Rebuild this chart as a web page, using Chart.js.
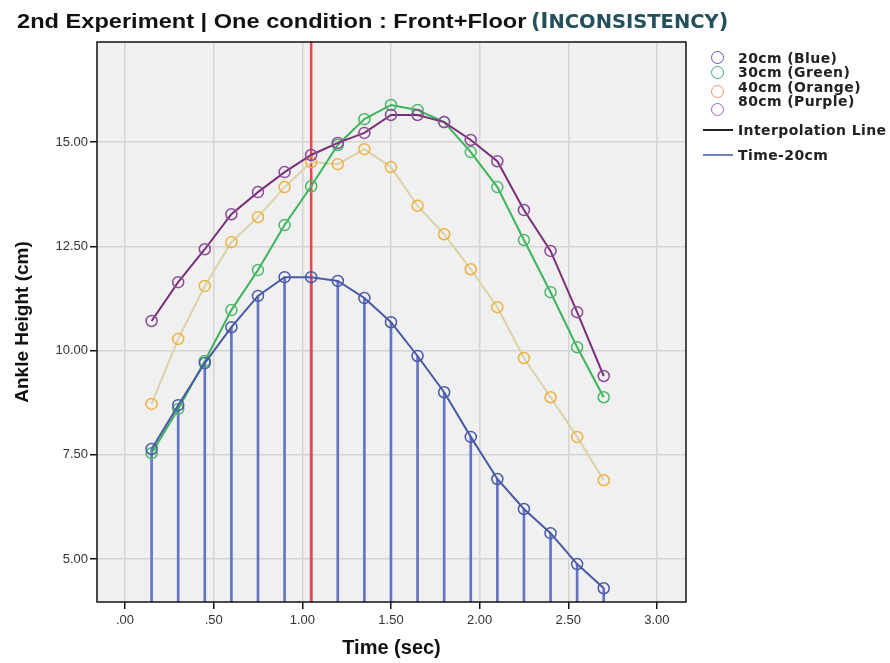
<!DOCTYPE html>
<html>
<head>
<meta charset="utf-8">
<title>Ankle height</title>
<script src="https://cdn.jsdelivr.net/npm/chart.js@4.4.1/dist/chart.umd.min.js"></script>
<style>
  html, body { margin: 0; padding: 0; background: #fff; }
  #wrap { position: relative; width: 890px; height: 663px; }
  #chart { position: absolute; left: 0; top: 0; }
  .ttl { position: absolute; top: 9px; white-space: nowrap; line-height: 24px; font-weight: bold; }
  #title { left: 17px; font-family: "Liberation Sans", Arial, sans-serif; font-size: 20px; color: #111; transform: scaleX(1.18); transform-origin: left center; }
  #tag { left: 531px; font-family: "DejaVu Sans", sans-serif; font-size: 21px; color: #24505c; }
  #tag .sm { font-size: 19.5px; }
  .lg { position: absolute; font: bold 14px "DejaVu Sans", sans-serif; letter-spacing: 0.4px; color: #222; line-height: 16px; white-space: nowrap; }
  .dot { position: absolute; width: 11px; height: 11px; border-radius: 50%; border: 1.5px solid; }
  .bar { position: absolute; width: 30px; height: 0; border-top: 2px solid; }
</style>
</head>
<body>
<div id="wrap">
  <canvas id="chart" width="890" height="663"></canvas>
  <div class="ttl" id="title">2nd Experiment | One condition : Front+Floor</div>
  <div class="ttl" id="tag">(I<span class="sm">NCONSISTENCY</span>)</div>

  <div class="dot" style="left:711px; top:51px; border-color:#6050d8;"></div>
  <div class="dot" style="left:711px; top:66px; border-color:#40a090;"></div>
  <div class="dot" style="left:711px; top:85px; border-color:#f09070;"></div>
  <div class="dot" style="left:711px; top:103px; border-color:#a060d8;"></div>
  <div class="lg" style="left:738px; top:50px;">20cm (Blue)</div>
  <div class="lg" style="left:738px; top:64px;">30cm (Green)</div>
  <div class="lg" style="left:738px; top:79px;">40cm (Orange)</div>
  <div class="lg" style="left:738px; top:93px;">80cm (Purple)</div>
  <div class="bar" style="left:703px; top:129px; border-color:#222;"></div>
  <div class="lg" style="left:738px; top:122px;">Interpolation Line</div>
  <div class="bar" style="left:703px; top:154px; border-color:#7080c0;"></div>
  <div class="lg" style="left:738px; top:147px;">Time-20cm</div>
</div>

<script>
// sample times (sec)
const timeSec = [0.15, 0.30, 0.45, 0.60, 0.75, 0.90, 1.05, 1.20, 1.35, 1.50,
                 1.65, 1.80, 1.95, 2.10, 2.25, 2.40, 2.55, 2.70];

// ankle height (cm) per obstacle height
const blue20   = [7.64, 8.69, 9.70, 10.56, 11.31, 11.76, 11.76, 11.67, 11.26, 10.68,
                  9.87, 9.00, 7.93, 6.92, 6.20, 5.62, 4.88, 4.30];
const green30  = [7.54, 8.60, 9.75, 10.97, 11.93, 13.01, 13.94, 14.93, 15.55, 15.89,
                  15.77, 15.48, 14.76, 13.92, 12.65, 11.40, 10.08, 8.88];
const orange40 = [8.72, 10.28, 11.55, 12.60, 13.20, 13.92, 14.52, 14.47, 14.83, 14.40,
                  13.47, 12.79, 11.95, 11.04, 9.82, 8.88, 7.93, 6.89];
const purple80 = [10.71, 11.64, 12.43, 13.27, 13.80, 14.28, 14.69, 14.98, 15.22, 15.65,
                  15.65, 15.48, 15.05, 14.54, 13.37, 12.39, 10.92, 9.39];

const cutTime = 1.05;

const xTicks = [0, 0.5, 1.0, 1.5, 2.0, 2.5, 3.0];
const yTicks = [5, 7.5, 10, 12.5, 15];
const xRange = [-0.158, 3.164];
const yRange = [3.97, 17.4];

const pts = ys => timeSec.map((t, i) => ({ x: t, y: ys[i] }));

// SPSS style label: ".50", "1.00"
const fmt = v => {
  const s = Number(v).toFixed(2);
  return s.startsWith("0.") ? s.slice(1) : s;
};

function series(values, line, mark, order) {
  return {
    type: "line",
    data: pts(values),
    borderColor: line,
    borderWidth: 2,
    tension: 0,
    pointRadius: 5.5,
    pointBorderWidth: 1.5,
    pointBorderColor: mark,
    pointBackgroundColor: "rgba(0,0,0,0)",
    order: order,
  };
}

const plotFrame = {
  id: "plotFrame",
  beforeDraw(chart) {
    const { ctx, chartArea: a } = chart;
    ctx.save();
    ctx.fillStyle = "#f0f0f0";
    ctx.fillRect(a.left, a.top, a.right - a.left, a.bottom - a.top);
    ctx.restore();
  },
  afterDraw(chart) {
    const { ctx, chartArea: a } = chart;
    ctx.save();
    ctx.strokeStyle = "#111";
    ctx.lineWidth = 1.5;
    ctx.strokeRect(a.left, a.top, a.right - a.left, a.bottom - a.top);
    ctx.restore();
  },
};

const tickFont = { family: "'Liberation Sans', Arial, sans-serif", size: 13 };
const font = (size) => ({ family: "'Liberation Sans', Arial, sans-serif", size: size, weight: "bold" });

new Chart(document.getElementById("chart"), {
  type: "line",
  data: {
    datasets: [
      series(blue20, "#4a5aa5", "#4a5aa5", 2),
      series(purple80, "#7a2f7a", "#8d4a9a", 3),
      series(green30, "#3cb45a", "#4cb86a", 4),
      series(orange40, "#dcd2a8", "#f0b040", 5),
      {
        type: "line",
        data: [{ x: cutTime, y: yRange[0] }, { x: cutTime, y: yRange[1] }],
        borderColor: "#e8464e",
        borderWidth: 2.5,
        pointRadius: 0,
        order: 6,
      },
      {
        type: "bar",
        data: pts(blue20),
        backgroundColor: "#6474c4",
        barThickness: 2,
        grouped: false,
        order: 10,
      },
    ],
  },
  options: {
    responsive: false,
    animation: false,
    layout: { padding: { top: 42, right: 204, bottom: 0, left: 0 } },
    plugins: { legend: { display: false }, tooltip: { enabled: false } },
    scales: {
      x: {
        type: "linear",
        min: xRange[0],
        max: xRange[1],
        offset: false,
        afterBuildTicks: s => { s.ticks = xTicks.map(v => ({ value: v })); },
        afterFit: s => { s.height = 61; },
        ticks: { callback: fmt, color: "#333", font: tickFont, padding: 4, maxRotation: 0, autoSkip: false },
        grid: { offset: false, color: "#d4d4d4", lineWidth: 1.5, tickColor: "#111", tickLength: 7, tickWidth: 1.5 },
        border: { display: false },
        title: { display: true, text: "Time (sec)", color: "#111", font: font(20), padding: { top: 0, bottom: 3 } },
      },
      y: {
        type: "linear",
        min: yRange[0],
        max: yRange[1],
        afterBuildTicks: s => { s.ticks = yTicks.map(v => ({ value: v })); },
        afterFit: s => { s.width = 97; },
        ticks: { callback: fmt, color: "#333", font: tickFont, padding: 2, autoSkip: false },
        grid: { color: "#d4d4d4", lineWidth: 1.5, tickColor: "#111", tickLength: 7, tickWidth: 1.5 },
        border: { display: false },
        title: { display: true, text: "Ankle Height (cm)", color: "#111", font: font(19), padding: { top: 11, bottom: 0 } },
      },
    },
  },
  plugins: [plotFrame],
});
</script>
</body>
</html>
